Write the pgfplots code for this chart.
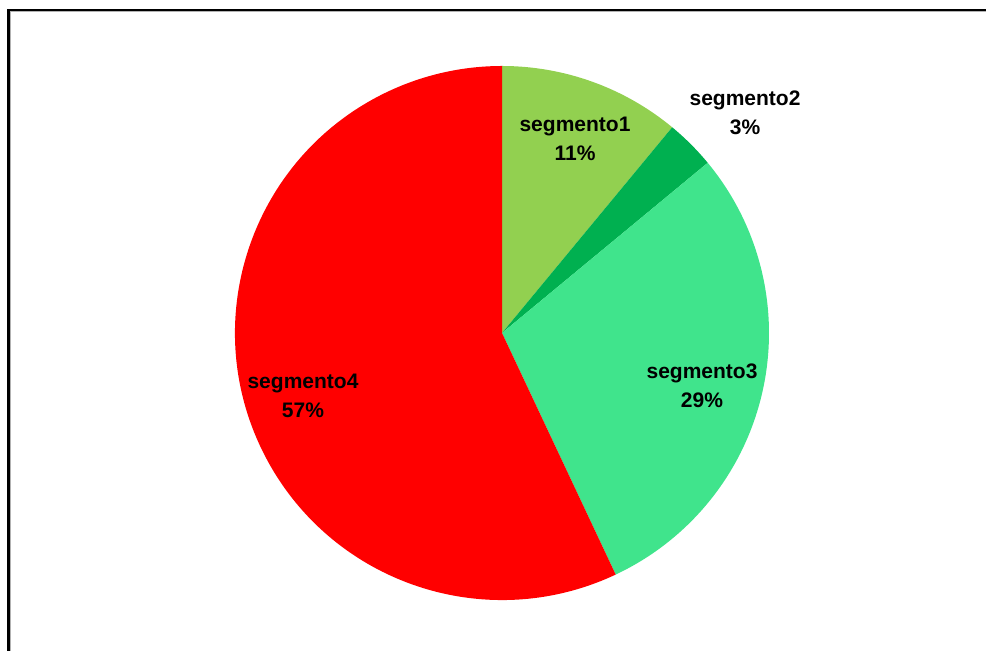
\documentclass[border=0pt]{standalone}
\usepackage{pgfplots}
\usepackage{pgfplotstable}
\pgfplotsset{compat=1.18}
\usepackage{fontspec}
\setmainfont{Liberation Sans}
\definecolor{seg1}{HTML}{92D050}
\definecolor{seg2}{HTML}{00B050}
\definecolor{seg3}{HTML}{40E48C}
\definecolor{seg4}{HTML}{FF0000}
\pgfplotstableread{
label pct col lx ly
segmento1 11 seg1 575 512
segmento2 3 seg2 745 538
segmento3 29 seg3 702 265
segmento4 57 seg4 303 255
}\piedata
\begin{document}
\begin{tikzpicture}
\useasboundingbox (0,0) rectangle (493pt,325.5pt);
\clip (0,0) rectangle (493pt,325.5pt);
% frame
\draw[gray!60, line width=1pt] (5.2pt,-5pt) -- (5.2pt,320pt) -- (500pt,320pt);
\draw[black, line width=1.1pt] (4.2pt,-5pt) -- (4.2pt,320.6pt) -- (500pt,320.6pt);
\begin{axis}[
  at={(0,0)}, anchor=south west,
  scale only axis, width=493pt, height=325.5pt,
  xmin=0, xmax=986, ymin=0, ymax=651,
  axis lines=none, clip=false,
]
\def\cum{0}
\pgfplotsforeachungrouped \i in {0,...,3}{
  \pgfplotstablegetelem{\i}{pct}\of\piedata \let\p\pgfplotsretval
  \pgfplotstablegetelem{\i}{col}\of\piedata \let\c\pgfplotsretval
  \pgfplotstablegetelem{\i}{label}\of\piedata \let\l\pgfplotsretval
  \pgfplotstablegetelem{\i}{lx}\of\piedata \let\lx\pgfplotsretval
  \pgfplotstablegetelem{\i}{ly}\of\piedata \let\ly\pgfplotsretval
  \pgfmathsetmacro\sa{90-3.6*\cum}
  \pgfmathsetmacro\ea{90-3.6*(\cum+\p)}
  \pgfmathsetmacro\newcum{\cum+\p}
  \let\cum\newcum
  \edef\temp{\noexpand\fill[\c] (axis cs:502,318) -- ++(\sa:133.5pt) arc[start angle=\sa, end angle=\ea, radius=133.5pt] -- cycle;}
  \temp
}
\pgfplotsforeachungrouped \i in {0,...,3}{
  \pgfplotstablegetelem{\i}{pct}\of\piedata \let\p\pgfplotsretval
  \pgfplotstablegetelem{\i}{label}\of\piedata \let\l\pgfplotsretval
  \pgfplotstablegetelem{\i}{lx}\of\piedata \let\lx\pgfplotsretval
  \pgfplotstablegetelem{\i}{ly}\of\piedata \let\ly\pgfplotsretval
  \edef\temp{\noexpand\node[align=center, font=\noexpand\fontsize{10.5pt}{14.5pt}\noexpand\selectfont\noexpand\bfseries, inner sep=0pt] at (axis cs:\lx,\ly) {\l\noexpand\\\p\noexpand\%};}
  \temp
}
\end{axis}
\end{tikzpicture}
\end{document}
